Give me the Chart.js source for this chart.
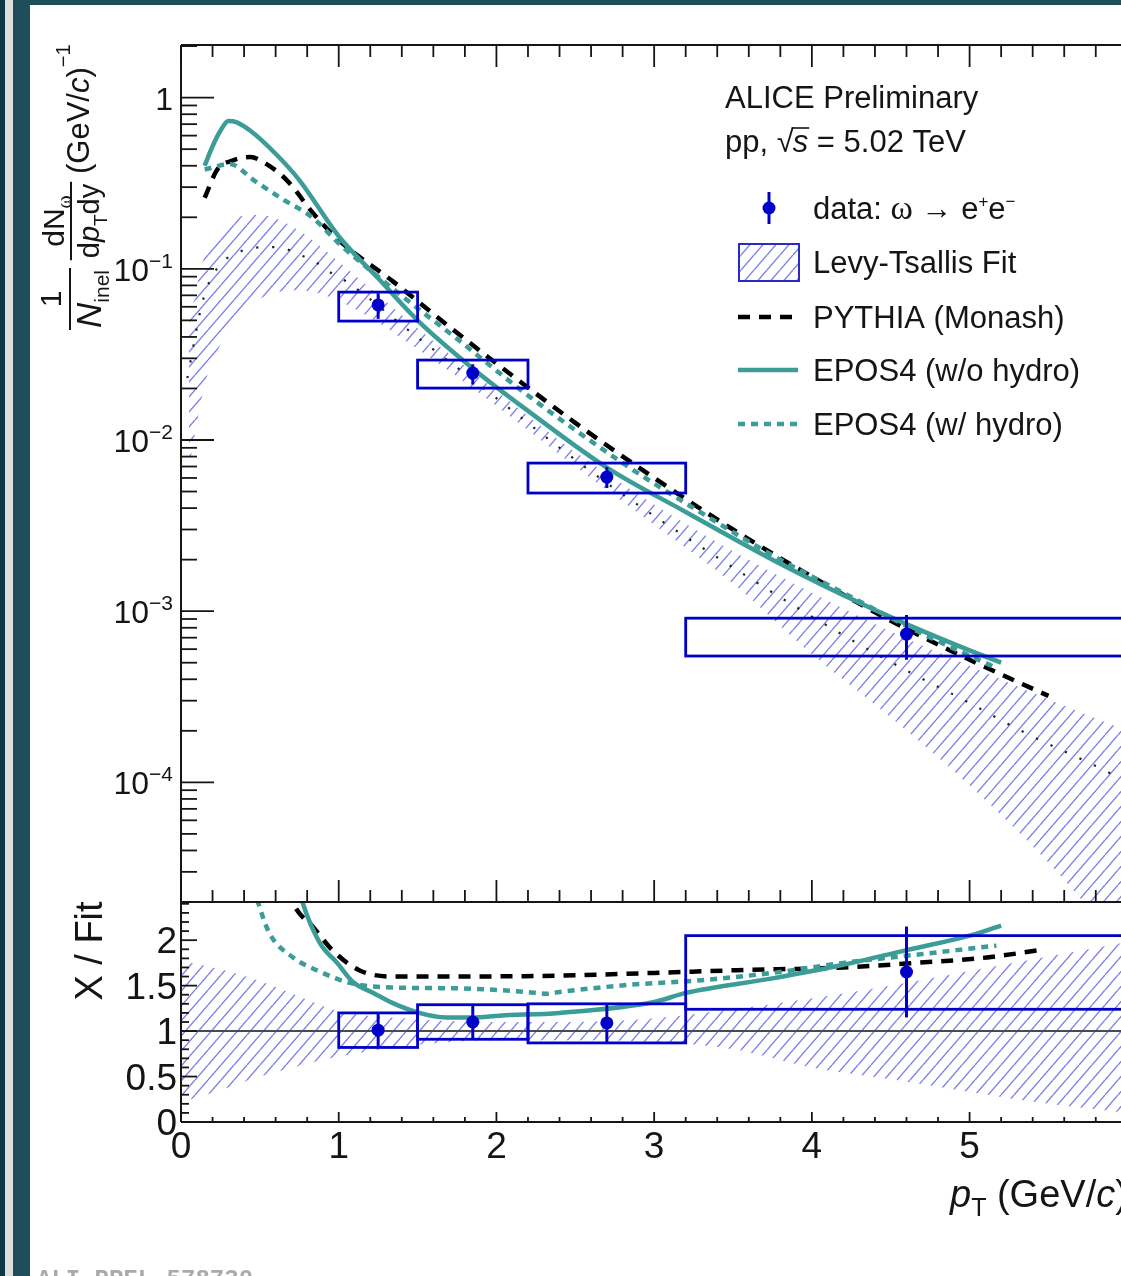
<!DOCTYPE html>
<html>
<head>
<meta charset="utf-8">
<script src="https://cdn.jsdelivr.net/npm/chart.js@4.4.1/dist/chart.umd.min.js"></script>
<style>
  html, body { margin: 0; padding: 0; background: #fff; overflow: hidden; }
  #page { position: relative; width: 1121px; height: 1276px; }
  canvas { position: absolute; left: 0; top: 0; }
  .strip { position: absolute; }
</style>
</head>
<body>
<div id="page">
  <canvas id="spectrum" width="1121" height="1276"></canvas>
  <canvas id="ratio" width="1121" height="1276"></canvas>
  <div class="strip" style="left:0;top:0;width:5px;height:1276px;background:#0c3a44"></div>
  <div class="strip" style="left:5px;top:0;width:8px;height:1276px;background:#dedede"></div>
  <div class="strip" style="left:13px;top:0;width:17px;height:1276px;background:#1f4d5a"></div>
  <div class="strip" style="left:30px;top:0;width:1091px;height:5px;background:#1f4d5a"></div>
</div>
<script>
// measured omega spectrum, pp 5.02 TeV
const binLow = [1.0, 1.5, 2.2, 3.2];
const binHigh = [1.5, 2.2, 3.2, 6.0];
const ptCenter = [1.25, 1.85, 2.7, 4.6];
const yieldVal = [0.0615, 0.0246, 0.00607, 7.35e-4];
const yieldStatLo = [0.051, 0.0211, 0.00524, 5.2e-4];
const yieldStatHi = [0.072, 0.0277, 0.00695, 9.5e-4];
const yieldSysLo = [0.0495, 0.0201, 0.0049, 5.47e-4];
const yieldSysHi = [0.0731, 0.0293, 0.00733, 9.1e-4];

// Levy-Tsallis fit and its band
const fitPt = [0.04, 0.14, 0.23, 0.34, 0.54, 0.65, 0.74, 0.85, 0.94, 1.05, 1.15, 1.25, 1.34, 1.85, 2.7, 3.65, 4.25, 4.6, 4.96, 5.35, 5.86, 6.0];
const fitVal = [0.023, 0.066, 0.101, 0.122, 0.134, 0.132, 0.122, 0.110, 0.096, 0.084, 0.072, 0.061, 0.052, 0.0225, 0.0056, 0.00147, 6.8e-4, 4.5e-4, 3.04e-4, 1.95e-4, 1.17e-4, 1.0e-4];
const bandPt = [0.05, 0.15, 0.25, 0.35, 0.5, 0.75, 1.0, 1.5, 2.0, 2.5, 3.0, 3.5, 4.0, 4.5, 5.0, 5.5, 6.0];
const bandHi = [0.047, 0.120, 0.175, 0.200, 0.206, 0.167, 0.110, 0.045, 0.0194, 0.0085, 0.0042, 0.00224, 0.00128, 7.6e-4, 4.8e-4, 3.06e-4, 2.0e-4];
const bandLo = [0.0068, 0.021, 0.036, 0.050, 0.067, 0.075, 0.065, 0.034, 0.0158, 0.0070, 0.0032, 0.00145, 5.6e-4, 2.4e-4, 9.6e-5, 3.4e-5, 1.0e-5];

// models
const pyPt = [0.15, 0.23, 0.33, 0.44, 0.54, 0.67, 0.84, 1.0, 1.34, 1.7, 2.0, 2.5, 3.0, 3.5, 4.0, 4.5, 5.0, 5.5];
const pyVal = [0.26, 0.38, 0.43, 0.45, 0.41, 0.33, 0.21, 0.147, 0.085, 0.046, 0.028, 0.0126, 0.006, 0.003, 0.00159, 8.8e-4, 5.2e-4, 3.2e-4];
const eposPt = [0.15, 0.2, 0.25, 0.3, 0.35, 0.45, 0.6, 0.75, 1.0, 1.25, 1.5, 1.85, 2.2, 2.7, 3.2, 3.75, 4.2, 4.6, 5.0, 5.2];
const eposVal = [0.40, 0.52, 0.64, 0.73, 0.72, 0.63, 0.47, 0.33, 0.155, 0.088, 0.05, 0.0262, 0.0148, 0.0069, 0.0038, 0.002, 0.00124, 8.4e-4, 5.9e-4, 5.0e-4];
const hydPt = [0.15, 0.31, 0.46, 0.63, 0.84, 1.0, 1.34, 1.77, 2.2, 2.85, 3.3, 3.75, 4.2, 4.66, 5.17];
const hydVal = [0.38, 0.41, 0.33, 0.26, 0.197, 0.141, 0.077, 0.0377, 0.0182, 0.00684, 0.00375, 0.00212, 0.00128, 7.7e-4, 4.66e-4];

// ratio panel (X / Fit)
const ratioVal = [1.01, 1.10, 1.09, 1.65];
const ratioStatLo = [0.82, 0.91, 0.87, 1.15];
const ratioStatHi = [1.20, 1.29, 1.30, 2.15];
const ratioSysLo = [0.82, 0.91, 0.87, 1.24];
const ratioSysHi = [1.20, 1.29, 1.30, 2.05];
const rBandPt = [0.0, 0.25, 0.5, 0.75, 1.0, 1.5, 2.0, 2.5, 3.0, 3.5, 4.0, 4.5, 5.0, 5.5, 6.0];
const rBandHi = [1.77, 1.68, 1.55, 1.38, 1.22, 1.13, 1.10, 1.10, 1.14, 1.24, 1.36, 1.50, 1.66, 1.82, 1.98];
const rBandLo = [0.22, 0.35, 0.50, 0.62, 0.72, 0.85, 0.90, 0.90, 0.88, 0.80, 0.60, 0.47, 0.33, 0.20, 0.10];
const pyRPt = [0.6, 0.71, 0.84, 0.96, 1.13, 1.34, 1.6, 2.4, 3.0, 3.53, 4.2, 4.66, 5.11, 5.48];
const pyRVal = [3.0, 2.41, 2.14, 1.89, 1.67, 1.60, 1.60, 1.61, 1.64, 1.67, 1.70, 1.75, 1.81, 1.90];
const eposRPt = [0.7, 0.77, 0.88, 0.99, 1.09, 1.22, 1.34, 1.51, 1.68, 1.85, 2.02, 2.4, 3.0, 3.2, 3.75, 4.2, 4.6, 5.0, 5.2];
const eposRVal = [2.9, 2.42, 1.97, 1.75, 1.54, 1.42, 1.31, 1.20, 1.15, 1.15, 1.17, 1.20, 1.32, 1.42, 1.58, 1.73, 1.89, 2.05, 2.16];
const hydRPt = [0.4, 0.49, 0.56, 0.71, 0.86, 1.07, 1.34, 1.77, 2.19, 2.32, 2.4, 2.85, 3.3, 3.75, 4.2, 4.66, 5.17];
const hydRVal = [3.0, 2.41, 2.08, 1.81, 1.67, 1.53, 1.48, 1.47, 1.43, 1.41, 1.43, 1.51, 1.56, 1.64, 1.75, 1.84, 1.94];

// axis ticks
const xTicks = [0, 1, 2, 3, 4, 5];
const yDecades = [0, -1, -2, -3, -4];
const rTicks = [0, 0.5, 1, 1.5, 2];
const rTickText = ['0', '0.5', '1', '1.5', '2'];

const X_MAX = 5.96;
const FONT = '"Liberation Sans", Arial, sans-serif';
const SERIF = '"Liberation Serif", "DejaVu Serif", serif';
const BLUE = '#0000c8';
const TEAL = '#3b9c98';
const INK = '#151515';

const pts = (xs, ys) => xs.map((x, i) => ({ x: x, y: ys[i] }));

function hatch(ctx) {
  const a = 13, b = 15;
  const c = document.createElement('canvas');
  c.width = a; c.height = b;
  const g = c.getContext('2d');
  g.strokeStyle = 'rgba(95,95,230,0.8)';
  g.lineWidth = 1.4;
  g.beginPath();
  [-a, 0, a].forEach(dx => { g.moveTo(dx, b); g.lineTo(dx + a, 0); });
  g.stroke();
  return ctx.createPattern(c, 'repeat');
}

function rich(ctx, x, y, parts) {
  let cx = x;
  parts.forEach(p => {
    ctx.font = (p.it ? 'italic ' : '') + p.px + 'px ' + (p.ff || FONT);
    ctx.fillText(p.t, cx, y + (p.dy || 0));
    cx += ctx.measureText(p.t).width;
  });
  return cx - x;
}
function richWidth(ctx, parts) {
  let w = 0;
  parts.forEach(p => {
    ctx.font = (p.it ? 'italic ' : '') + p.px + 'px ' + (p.ff || FONT);
    w += ctx.measureText(p.t).width;
  });
  return w;
}
// rotated text reading upward, starting at screen y = yStart, baseline at screen x = xBase
function rotText(ctx, xBase, yStart, parts) {
  ctx.save();
  ctx.translate(xBase, yStart);
  ctx.rotate(-Math.PI / 2);
  rich(ctx, 0, 0, parts);
  ctx.restore();
}
function rotFrac(ctx, yc, num, numBase, den, denBase, barX) {
  const wn = richWidth(ctx, num), wd = richWidth(ctx, den);
  const L = Math.max(wn, wd) + 4;
  rotText(ctx, numBase, yc + wn / 2, num);
  rotText(ctx, denBase, yc + wd / 2, den);
  ctx.fillRect(barX - 1, yc - L / 2, 2, L);
}
function seg(ctx, x1, y1, x2, y2) {
  ctx.beginPath(); ctx.moveTo(x1, y1); ctx.lineTo(x2, y2); ctx.stroke();
}

function drawBoxesAndErrors(chart, val, sLo, sHi, eLo, eHi) {
  const ctx = chart.ctx, a = chart.chartArea;
  const xs = chart.scales.x, ys = chart.scales.y;
  ctx.save();
  ctx.beginPath(); ctx.rect(a.left, a.top, a.right - a.left, a.bottom - a.top); ctx.clip();
  ctx.strokeStyle = BLUE;
  for (let i = 0; i < val.length; i++) {
    const x1 = xs.getPixelForValue(binLow[i]), x2 = xs.getPixelForValue(binHigh[i]);
    const y1 = ys.getPixelForValue(sHi[i]), y2 = ys.getPixelForValue(sLo[i]);
    ctx.lineWidth = 2.8;
    ctx.strokeRect(x1, y1, x2 - x1, y2 - y1);
    const xc = xs.getPixelForValue(ptCenter[i]);
    ctx.lineWidth = 3;
    seg(ctx, xc, ys.getPixelForValue(eHi[i]), xc, ys.getPixelForValue(eLo[i]));
  }
  ctx.restore();
}

// ---------- upper panel ----------
const specCtx = document.getElementById('spectrum').getContext('2d');
const specHatch = hatch(specCtx);

const spectrumDecor = {
  id: 'spectrumDecor',
  afterDatasetsDraw(chart) {
    drawBoxesAndErrors(chart, yieldVal, yieldSysLo, yieldSysHi, yieldStatLo, yieldStatHi);
  },
  afterDraw(chart) {
    const ctx = chart.ctx, a = chart.chartArea;
    const xs = chart.scales.x, ys = chart.scales.y;
    ctx.save();
    ctx.strokeStyle = INK; ctx.fillStyle = INK; ctx.lineWidth = 2;
    seg(ctx, a.left, a.top, a.left, a.bottom);
    seg(ctx, a.left, a.top, a.right, a.top);
    seg(ctx, a.left, a.bottom, a.right, a.bottom);
    ctx.lineWidth = 1.8;
    for (let i = 0; i * 0.2 <= X_MAX; i++) {
      const px = xs.getPixelForValue(i * 0.2);
      const L = i % 5 === 0 ? 22 : 12;
      seg(ctx, px, a.top, px, a.top + L);
      seg(ctx, px, a.bottom, px, a.bottom - L);
    }
    for (let d = -5; d <= 0; d++) {
      for (let k = 1; k <= 9; k++) {
        const v = k * Math.pow(10, d);
        if (v < ys.min || v > ys.max) continue;
        const py = ys.getPixelForValue(v);
        seg(ctx, a.left, py, a.left + (k === 1 ? 33 : 16), py);
      }
    }
    // y tick labels
    ctx.textAlign = 'left'; ctx.textBaseline = 'alphabetic';
    yDecades.forEach(d => {
      const py = ys.getPixelForValue(Math.pow(10, d));
      const parts = d === 0 ? [{ t: '1', px: 32 }]
        : [{ t: '10', px: 32 }, { t: '\u2212' + (-d), px: 21, dy: -13 }];
      rich(ctx, 173 - richWidth(ctx, parts), py + 12, parts);
    });
    // y title
    rotFrac(ctx, 299, [{ t: '1', px: 30 }], 61,
      [{ t: 'N', px: 35, it: true }, { t: 'inel', px: 21, dy: 8 }], 101, 70);
    rotFrac(ctx, 221, [{ t: 'dN', px: 30 }, { t: '\u03c9', px: 20, ff: SERIF, dy: 7 }], 64,
      [{ t: 'd', px: 29 }, { t: 'p', px: 29, it: true }, { t: 'T', px: 19, dy: 8 }, { t: 'dy', px: 29 }], 99, 71);
    rotText(ctx, 89, 174, [{ t: '(GeV/', px: 31 }, { t: 'c', px: 31, it: true }, { t: ')', px: 31 },
      { t: '\u22121', px: 20, dy: -19 }]);

    // header
    rich(ctx, 725, 108, [{ t: 'ALICE Preliminary', px: 31 }]);
    let x = 725 + rich(ctx, 725, 152, [{ t: 'pp, ', px: 31 }]);
    ctx.font = '31px ' + FONT;
    ctx.fillText('\u221a', x, 152);
    x += ctx.measureText('\u221a').width - 1;
    ctx.font = 'italic 31px ' + FONT;
    const ws = ctx.measureText('s').width;
    ctx.fillText('s', x, 152);
    ctx.lineWidth = 1.6;
    seg(ctx, x - 1, 128, x + ws + 1, 128);
    rich(ctx, x + ws, 152, [{ t: ' = 5.02 TeV', px: 31 }]);

    // legend
    const tx = 813;
    ctx.fillStyle = BLUE; ctx.strokeStyle = BLUE; ctx.lineWidth = 3;
    seg(ctx, 769, 192, 769, 224);
    ctx.beginPath(); ctx.arc(769, 208, 6.5, 0, Math.PI * 2); ctx.fill();
    ctx.fillStyle = INK;
    rich(ctx, tx, 219, [{ t: 'data: ', px: 31 }, { t: '\u03c9', px: 34, ff: SERIF }, { t: ' \u2192 ', px: 31 },
      { t: 'e', px: 31 }, { t: '+', px: 17, dy: -12 }, { t: 'e', px: 31 }, { t: '\u2212', px: 17, dy: -12 }]);

    ctx.fillStyle = specHatch;
    ctx.fillRect(739, 244, 60, 37);
    ctx.strokeStyle = '#2a2ac8'; ctx.lineWidth = 2;
    ctx.strokeRect(739, 244, 60, 37);
    ctx.fillStyle = INK;
    rich(ctx, tx, 273, [{ t: 'Levy-Tsallis Fit', px: 31 }]);

    ctx.lineWidth = 4.5; ctx.lineCap = 'butt';
    ctx.strokeStyle = '#000'; ctx.setLineDash([12, 9]);
    seg(ctx, 738, 317, 798, 317);
    rich(ctx, tx, 328, [{ t: 'PYTHIA (Monash)', px: 31 }]);
    ctx.strokeStyle = TEAL; ctx.setLineDash([]);
    seg(ctx, 738, 370, 798, 370);
    rich(ctx, tx, 381, [{ t: 'EPOS4 (w/o hydro)', px: 31 }]);
    ctx.setLineDash([7, 6]);
    seg(ctx, 738, 424, 798, 424);
    ctx.setLineDash([]);
    rich(ctx, tx, 435, [{ t: 'EPOS4 (w/ hydro)', px: 31 }]);
    ctx.restore();
  }
};

new Chart(specCtx, {
  type: 'line',
  data: {
    datasets: [
      { label: 'data', data: pts(ptCenter, yieldVal), showLine: false, pointRadius: 6.5,
        pointBackgroundColor: BLUE, borderColor: BLUE, pointBorderWidth: 0, order: 0 },
      { label: 'EPOS4 (w/o hydro)', data: pts(eposPt, eposVal), borderColor: TEAL, borderWidth: 4.5,
        cubicInterpolationMode: 'monotone', pointRadius: 0, order: 1 },
      { label: 'EPOS4 (w/ hydro)', data: pts(hydPt, hydVal), borderColor: TEAL, borderWidth: 4.5,
        borderDash: [7, 6], cubicInterpolationMode: 'monotone', pointRadius: 0, order: 2 },
      { label: 'PYTHIA (Monash)', data: pts(pyPt, pyVal), borderColor: '#000', borderWidth: 4.5,
        borderDash: [12, 9], cubicInterpolationMode: 'monotone', pointRadius: 0, order: 3 },
      { label: 'Levy-Tsallis', data: pts(fitPt, fitVal), borderColor: '#222', borderWidth: 2.2,
        borderDash: [2.2, 13.8], cubicInterpolationMode: 'monotone', pointRadius: 0, order: 4 },
      { label: 'fit high', data: pts(bandPt, bandHi), borderColor: 'rgba(0,0,0,0)', borderWidth: 0,
        backgroundColor: specHatch, fill: '+1', cubicInterpolationMode: 'monotone', pointRadius: 0, order: 5 },
      { label: 'fit low', data: pts(bandPt, bandLo), borderColor: 'rgba(0,0,0,0)', borderWidth: 0,
        fill: false, cubicInterpolationMode: 'monotone', pointRadius: 0, order: 6 }
    ]
  },
  options: {
    responsive: false, animation: false, devicePixelRatio: 1,
    layout: { autoPadding: false, padding: { left: 181, top: 45, right: 0, bottom: 1276 - 902 } },
    plugins: { legend: { display: false }, tooltip: { enabled: false } },
    scales: {
      x: { type: 'linear', min: 0, max: X_MAX, display: false },
      y: { type: 'logarithmic', min: 2e-5, max: 2.03, display: false }
    }
  },
  plugins: [spectrumDecor]
});

// ---------- ratio panel ----------
const ratioCtx = document.getElementById('ratio').getContext('2d');
const ratioHatch = hatch(ratioCtx);

const ratioDecor = {
  id: 'ratioDecor',
  afterDatasetsDraw(chart) {
    drawBoxesAndErrors(chart, ratioVal, ratioSysLo, ratioSysHi, ratioStatLo, ratioStatHi);
  },
  afterDraw(chart) {
    const ctx = chart.ctx, a = chart.chartArea;
    const xs = chart.scales.x, ys = chart.scales.y;
    ctx.save();
    ctx.strokeStyle = INK; ctx.fillStyle = INK; ctx.lineWidth = 2;
    seg(ctx, a.left, a.top, a.left, a.bottom);
    seg(ctx, a.left, a.top, a.right, a.top);
    seg(ctx, a.left, a.bottom, a.right, a.bottom);
    ctx.lineWidth = 1.8;
    for (let i = 0; i * 0.2 <= X_MAX; i++) {
      const px = xs.getPixelForValue(i * 0.2);
      seg(ctx, px, a.bottom, px, a.bottom - (i % 5 === 0 ? 10 : 5));
    }
    for (let i = 0; i * 0.1 <= ys.max; i++) {
      const py = ys.getPixelForValue(i * 0.1);
      seg(ctx, a.left, py, a.left + (i % 5 === 0 ? 16 : 8), py);
    }
    ctx.textBaseline = 'alphabetic';
    ctx.font = '37px ' + FONT;
    ctx.textAlign = 'center';
    xTicks.forEach(v => ctx.fillText(String(v), xs.getPixelForValue(v), 1158));
    ctx.textAlign = 'right';
    rTicks.forEach((v, i) => ctx.fillText(rTickText[i], 177, ys.getPixelForValue(v) + 13));
    ctx.textAlign = 'left';
    // axis titles
    const yt = [{ t: 'X / Fit', px: 38 }];
    rotText(ctx, 102, 951 + richWidth(ctx, yt) / 2, yt);
    rich(ctx, 950, 1207, [{ t: 'p', px: 38, it: true }, { t: 'T', px: 25, dy: 9 }, { t: ' (GeV/', px: 38 },
      { t: 'c', px: 38, it: true }, { t: ')', px: 38 }]);
    ctx.fillStyle = '#aaaaaa';
    ctx.font = 'bold 24px "Liberation Mono", "DejaVu Sans Mono", monospace';
    ctx.fillText('ALI-PREL-578730', 37, 1286);
    ctx.restore();
  }
};

new Chart(ratioCtx, {
  type: 'line',
  data: {
    datasets: [
      { label: 'data / fit', data: pts(ptCenter, ratioVal), showLine: false, pointRadius: 6.5,
        pointBackgroundColor: BLUE, borderColor: BLUE, pointBorderWidth: 0, order: 0 },
      { label: 'EPOS4 (w/o hydro)', data: pts(eposRPt, eposRVal), borderColor: TEAL, borderWidth: 4.5,
        cubicInterpolationMode: 'monotone', pointRadius: 0, clip: 0, order: 1 },
      { label: 'EPOS4 (w/ hydro)', data: pts(hydRPt, hydRVal), borderColor: TEAL, borderWidth: 4.5,
        borderDash: [7, 6], cubicInterpolationMode: 'monotone', pointRadius: 0, clip: 0, order: 2 },
      { label: 'PYTHIA (Monash)', data: pts(pyRPt, pyRVal), borderColor: '#000', borderWidth: 4.5,
        borderDash: [12, 9], cubicInterpolationMode: 'monotone', pointRadius: 0, clip: 0, order: 3 },
      { label: 'unity', data: pts([0, 6], [1, 1]), borderColor: '#4a4a4a', borderWidth: 2,
        pointRadius: 0, order: 4 },
      { label: 'fit high', data: pts(rBandPt, rBandHi), borderColor: 'rgba(0,0,0,0)', borderWidth: 0,
        backgroundColor: ratioHatch, fill: '+1', cubicInterpolationMode: 'monotone', pointRadius: 0, order: 5 },
      { label: 'fit low', data: pts(rBandPt, rBandLo), borderColor: 'rgba(0,0,0,0)', borderWidth: 0,
        fill: false, cubicInterpolationMode: 'monotone', pointRadius: 0, order: 6 }
    ]
  },
  options: {
    responsive: false, animation: false, devicePixelRatio: 1,
    layout: { autoPadding: false, padding: { left: 181, top: 902, right: 0, bottom: 1276 - 1122 } },
    plugins: { legend: { display: false }, tooltip: { enabled: false } },
    scales: {
      x: { type: 'linear', min: 0, max: X_MAX, display: false },
      y: { type: 'linear', min: 0, max: 2.42, display: false }
    }
  },
  plugins: [ratioDecor]
});
</script>
</body>
</html>
